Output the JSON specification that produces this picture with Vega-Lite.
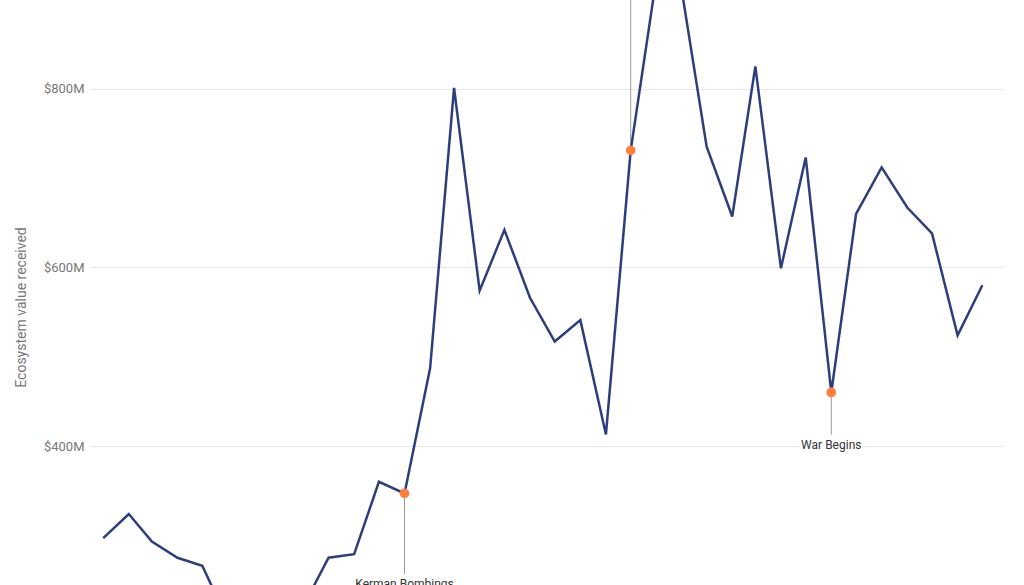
{
  "$schema": "https://vega.github.io/schema/vega-lite/v6.json",
  "description": "Monthly ecosystem value received, with annotated events.",
  "width": 913,
  "height": 585,
  "autosize": {"type": "none"},
  "padding": {"left": 90, "top": 0, "right": 21, "bottom": 0},
  "datasets": {
    "series": [
      {"month": "2023-01-01", "value": 297},
      {"month": "2023-02-01", "value": 324},
      {"month": "2023-03-01", "value": 293},
      {"month": "2023-04-01", "value": 275},
      {"month": "2023-05-01", "value": 266},
      {"month": "2023-06-01", "value": 205},
      {"month": "2023-07-01", "value": 185},
      {"month": "2023-08-01", "value": 190},
      {"month": "2023-09-01", "value": 222},
      {"month": "2023-10-01", "value": 275},
      {"month": "2023-11-01", "value": 279},
      {"month": "2023-12-01", "value": 360},
      {"month": "2024-01-01", "value": 347},
      {"month": "2024-02-01", "value": 487},
      {"month": "2024-03-01", "value": 801},
      {"month": "2024-04-01", "value": 574},
      {"month": "2024-05-01", "value": 642},
      {"month": "2024-06-01", "value": 566},
      {"month": "2024-07-01", "value": 517},
      {"month": "2024-08-01", "value": 541},
      {"month": "2024-09-01", "value": 413},
      {"month": "2024-10-01", "value": 731},
      {"month": "2024-11-01", "value": 923},
      {"month": "2024-12-01", "value": 915},
      {"month": "2025-01-01", "value": 735},
      {"month": "2025-02-01", "value": 657},
      {"month": "2025-03-01", "value": 825},
      {"month": "2025-04-01", "value": 599},
      {"month": "2025-05-01", "value": 723},
      {"month": "2025-06-01", "value": 460},
      {"month": "2025-07-01", "value": 660},
      {"month": "2025-08-01", "value": 712},
      {"month": "2025-09-01", "value": 667},
      {"month": "2025-10-01", "value": 638},
      {"month": "2025-11-01", "value": 524},
      {"month": "2025-12-01", "value": 580}
    ],
    "events": [
      {"month": "2024-01-01", "value": 347, "label": "Kerman Bombings", "labelAt": 241},
      {"month": "2024-10-01", "value": 731, "label": null, "labelAt": 1000},
      {"month": "2025-06-01", "value": 460, "label": "War Begins", "labelAt": 397}
    ]
  },
  "layer": [
    {
      "data": {"name": "series"},
      "mark": {"type": "rule", "opacity": 0},
      "encoding": {
        "x": {"field": "month", "type": "temporal", "scale": {"domain": ["2022-12-16", "2025-12-26"]}, "axis": null},
        "y": {
          "field": "value",
          "type": "quantitative",
          "scale": {"domain": [244.5, 899.3], "nice": false, "zero": false},
          "axis": {
            "title": "Ecosystem value received",
            "values": [400, 600, 800],
            "labelExpr": "'$' + datum.value + 'M'",
            "domain": false,
            "ticks": false,
            "grid": true,
            "gridColor": "#e6e6e6",
            "gridWidth": 1,
            "labelColor": "#777777",
            "labelFontSize": 13,
            "labelPadding": 6,
            "titleColor": "#777777",
            "titleFontSize": 14,
            "titleFontWeight": "normal",
            "titleX": -62,
            "titleY": 307
          }
        }
      }
    },
    {
      "data": {"name": "events"},
      "mark": {"type": "rule", "color": "#9a9a9a", "strokeWidth": 1, "y2Offset": -14, "clip": true},
      "encoding": {
        "x": {"field": "month", "type": "temporal", "scale": {"domain": ["2022-12-16", "2025-12-26"]}, "axis": null},
        "y": {"field": "value", "type": "quantitative", "scale": {"domain": [244.5, 899.3], "nice": false, "zero": false}, "title": "Ecosystem value received"},
        "y2": {"field": "labelAt"}
      }
    },
    {
      "data": {"name": "series"},
      "mark": {"type": "line", "color": "#2d3e7c", "strokeWidth": 2.5, "clip": true},
      "encoding": {
        "x": {"field": "month", "type": "temporal", "scale": {"domain": ["2022-12-16", "2025-12-26"]}, "axis": null},
        "y": {"field": "value", "type": "quantitative", "scale": {"domain": [244.5, 899.3], "nice": false, "zero": false}, "title": "Ecosystem value received"}
      }
    },
    {
      "data": {"name": "events"},
      "mark": {"type": "circle", "color": "#ff7f3f", "size": 95, "opacity": 1},
      "encoding": {
        "x": {"field": "month", "type": "temporal", "scale": {"domain": ["2022-12-16", "2025-12-26"]}, "axis": null},
        "y": {"field": "value", "type": "quantitative", "scale": {"domain": [244.5, 899.3], "nice": false, "zero": false}, "title": "Ecosystem value received"}
      }
    },
    {
      "data": {"name": "events"},
      "transform": [{"filter": "datum.label != null"}],
      "mark": {"type": "text", "fontSize": 12, "baseline": "alphabetic", "align": "center", "stroke": "white", "strokeWidth": 8, "fill": "white"},
      "encoding": {
        "x": {"field": "month", "type": "temporal", "scale": {"domain": ["2022-12-16", "2025-12-26"]}, "axis": null},
        "y": {"field": "labelAt", "type": "quantitative", "scale": {"domain": [244.5, 899.3], "nice": false, "zero": false}, "title": "Ecosystem value received"},
        "text": {"field": "label"}
      }
    },
    {
      "data": {"name": "events"},
      "transform": [{"filter": "datum.label != null"}],
      "mark": {"type": "text", "fontSize": 12, "baseline": "alphabetic", "align": "center", "color": "#333333"},
      "encoding": {
        "x": {"field": "month", "type": "temporal", "scale": {"domain": ["2022-12-16", "2025-12-26"]}, "axis": null},
        "y": {"field": "labelAt", "type": "quantitative", "scale": {"domain": [244.5, 899.3], "nice": false, "zero": false}, "title": "Ecosystem value received"},
        "text": {"field": "label"}
      }
    }
  ],
  "config": {
    "view": {"stroke": null},
    "font": "Roboto"
  }
}
